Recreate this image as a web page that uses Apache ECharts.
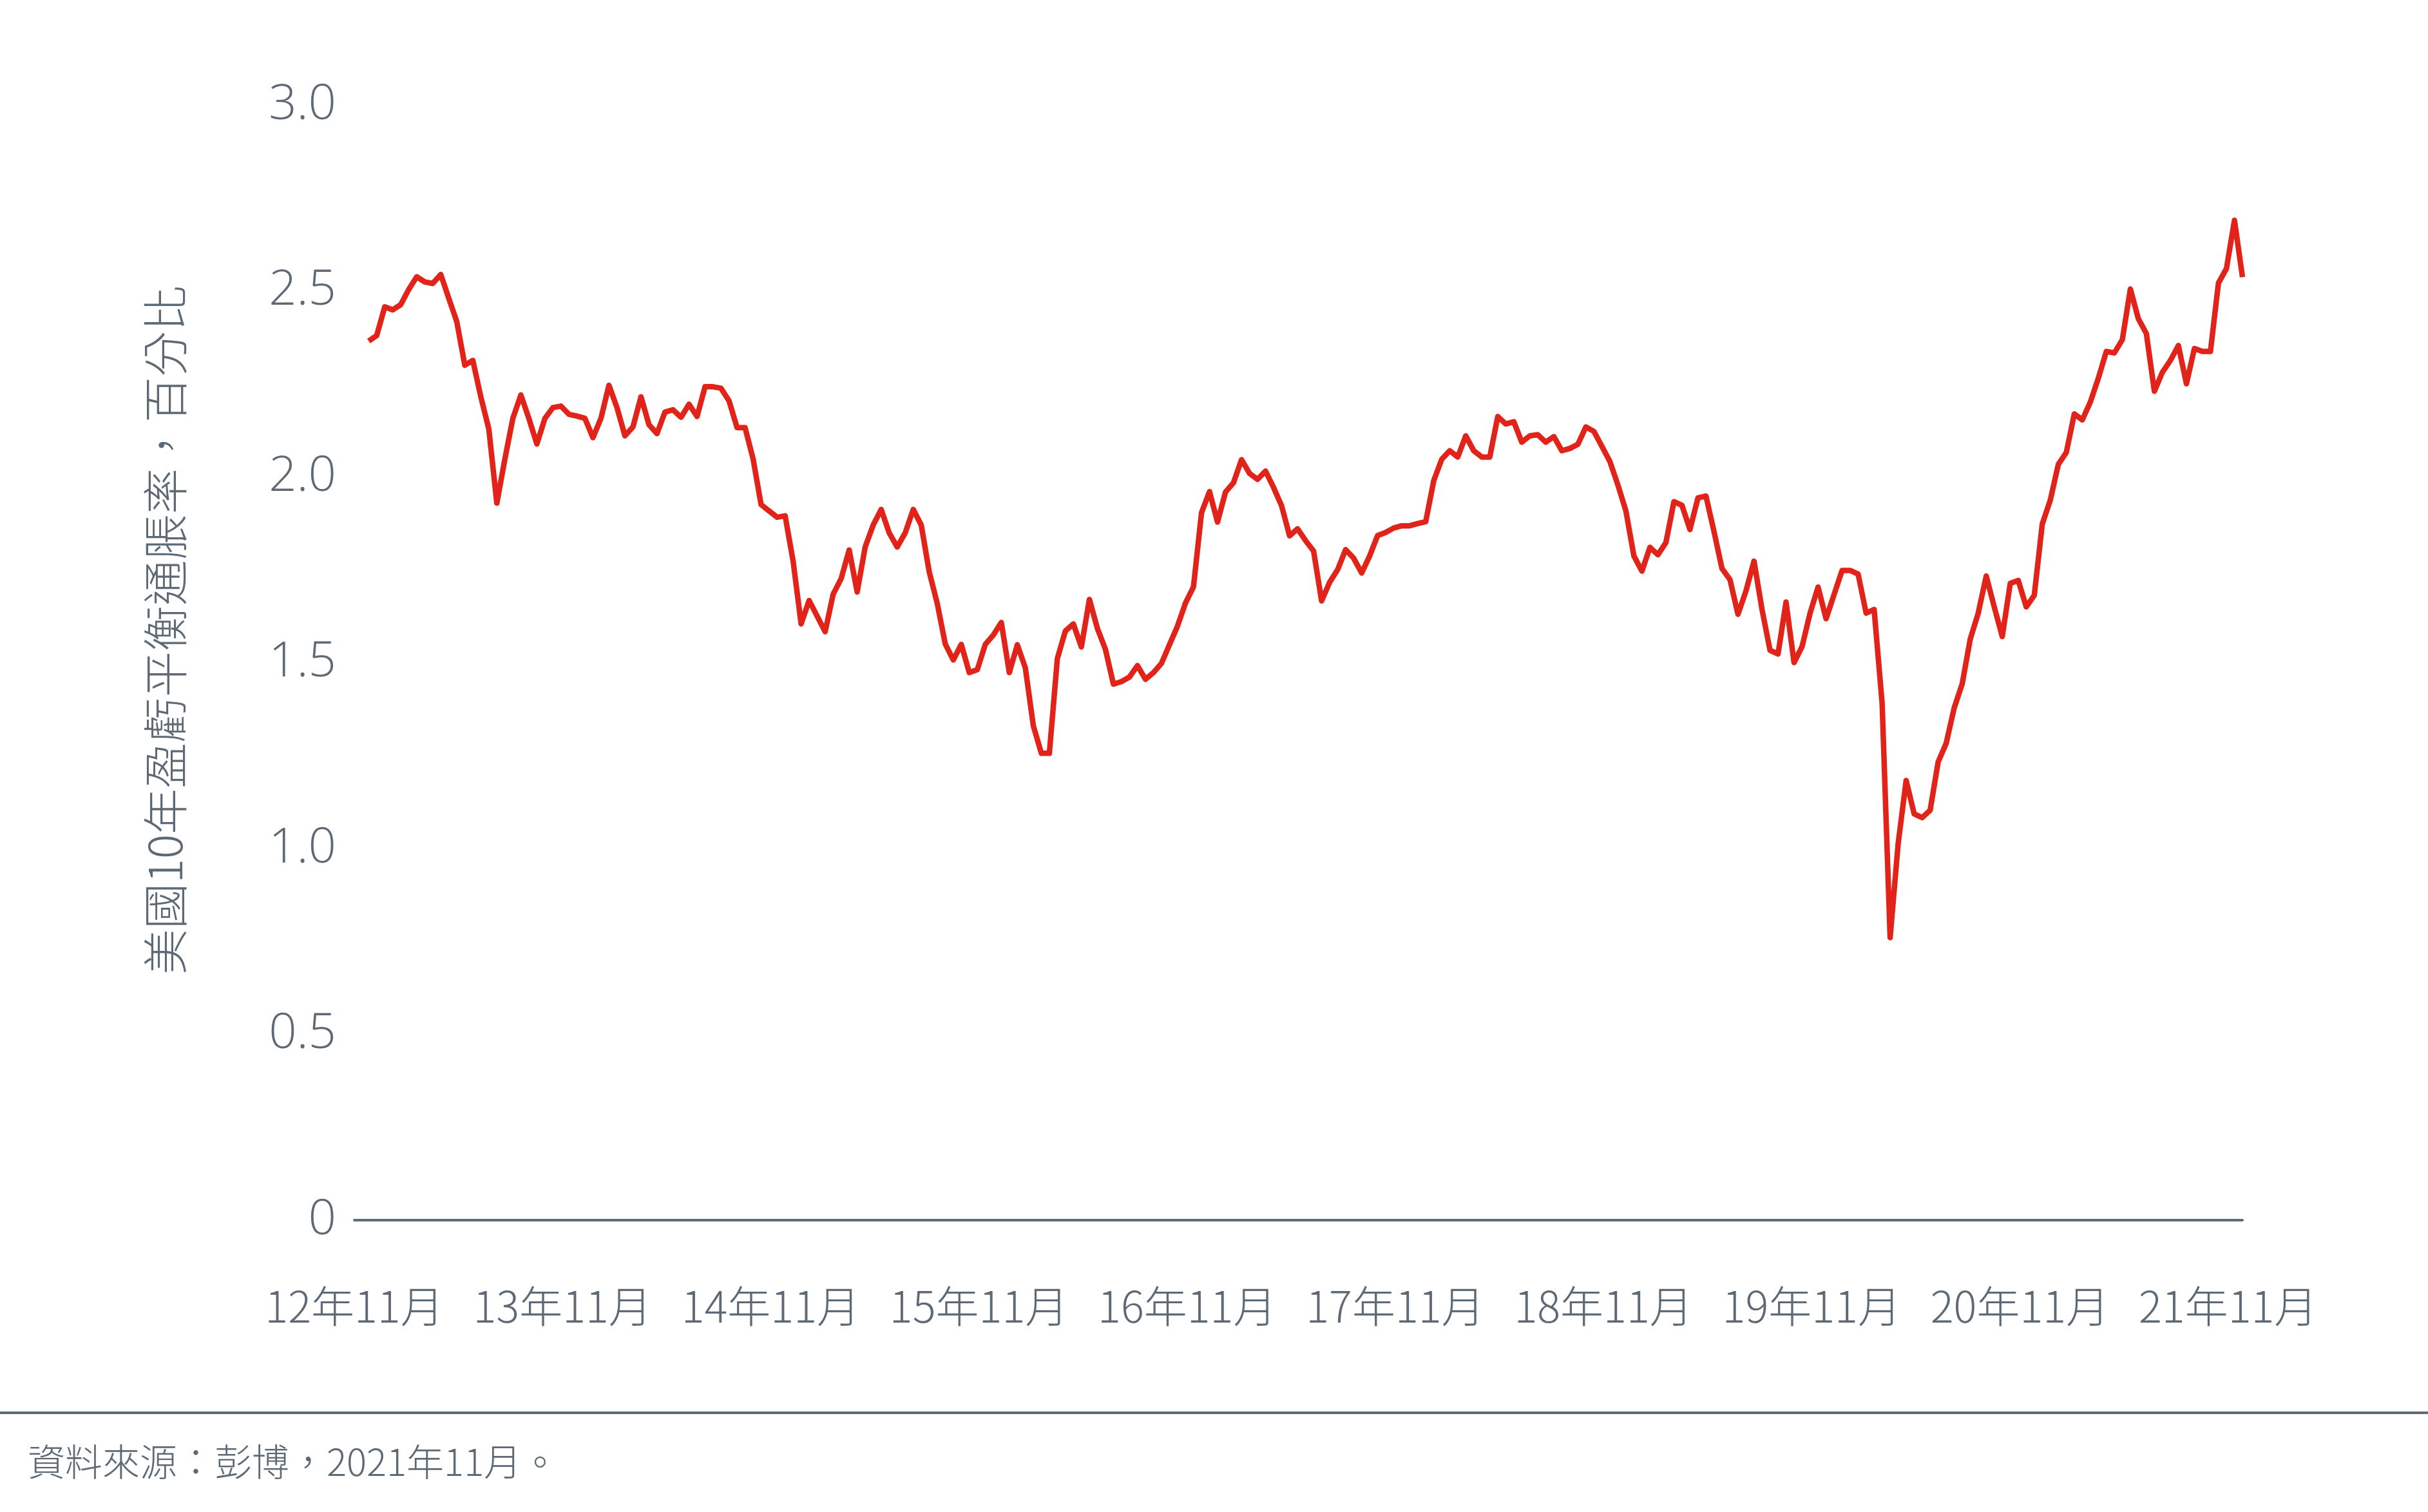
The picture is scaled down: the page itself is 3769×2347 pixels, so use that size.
<!DOCTYPE html>
<html>

<head>
  <meta charset="utf-8">
  <script src="https://cdn.jsdelivr.net/npm/echarts@6/dist/echarts.min.js"></script>
</head>

<style>
  html,
  body {
    margin: 0;
    width: 100%;
    height: 100%;
    background: #fff;
  }

  #main {
    width: 3769px;
    height: 2347px;
  }
</style>

<body>
  <div id="main"></div>

  <script>
    // 美國10年盈虧平衡通脹率（每兩週一點，12年11月至21年11月）
    var tickLabels = ['12年11月', '13年11月', '14年11月', '15年11月', '16年11月',
      '17年11月', '18年11月', '19年11月', '20年11月', '21年11月'];

    var beiValues = [
      2.365, 2.38, 2.457, 2.449, 2.463, 2.504, 2.538, 2.524, 2.52, 2.544,
      2.48, 2.417, 2.30, 2.313, 2.215, 2.128, 1.929, 2.047, 2.157, 2.22,
      2.157, 2.088, 2.157, 2.186, 2.19, 2.168, 2.163, 2.157, 2.105, 2.157,
      2.246, 2.186, 2.11, 2.134, 2.215, 2.14, 2.116, 2.174, 2.18, 2.16,
      2.195, 2.162, 2.242, 2.242, 2.238, 2.204, 2.132, 2.132, 2.048, 1.925,
      1.908, 1.891, 1.895, 1.773, 1.604, 1.667, 1.625, 1.583, 1.684, 1.726,
      1.803, 1.69, 1.811, 1.87, 1.912, 1.849, 1.811, 1.849, 1.912, 1.87,
      1.744, 1.659, 1.55, 1.507, 1.549, 1.473, 1.481, 1.549, 1.574, 1.608,
      1.473, 1.548, 1.486, 1.33, 1.256, 1.256, 1.511, 1.585, 1.604, 1.542,
      1.67, 1.592, 1.536, 1.442, 1.449, 1.461, 1.492, 1.455, 1.473, 1.498,
      1.548, 1.598, 1.66, 1.704, 1.903, 1.96, 1.878, 1.959, 1.984, 2.046,
      2.009, 1.993, 2.015, 1.971, 1.922, 1.841, 1.86, 1.828, 1.8, 1.666,
      1.716, 1.75, 1.804, 1.781, 1.741, 1.787, 1.842, 1.85, 1.862, 1.868,
      1.868, 1.874, 1.879, 1.989, 2.047, 2.07, 2.053, 2.11, 2.07, 2.053,
      2.053, 2.162, 2.142, 2.148, 2.093, 2.11, 2.113, 2.093, 2.108, 2.07,
      2.076, 2.087, 2.134, 2.122, 2.082, 2.041, 1.978, 1.908, 1.787, 1.746,
      1.81, 1.79, 1.823, 1.933, 1.923, 1.858, 1.943, 1.948, 1.853, 1.753,
      1.723, 1.63, 1.693, 1.773, 1.643, 1.533, 1.523, 1.663, 1.50, 1.543,
      1.633, 1.703, 1.618, 1.683, 1.748, 1.748, 1.738, 1.633, 1.643, 1.39,
      0.76, 1.013, 1.183, 1.093, 1.083, 1.103, 1.233, 1.283, 1.378, 1.443,
      1.563, 1.633, 1.733, 1.65, 1.57, 1.713, 1.721, 1.65, 1.681, 1.873,
      1.937, 2.033, 2.065, 2.169, 2.153, 2.201, 2.265, 2.337, 2.333, 2.369,
      2.505, 2.425, 2.385, 2.23, 2.281, 2.313, 2.353, 2.25, 2.345, 2.337,
      2.337, 2.521, 2.56, 2.69, 2.537
    ];

    var textColor = '#5d6a75';
    var labelOffset = -1.8; // 月份標籤比首個數據點略早

    var seriesData = beiValues.map(function (v, i) { return [i, v]; });
    var labelPositions = tickLabels.map(function (t, k) { return labelOffset + 26 * k; });

    var myChart = echarts.init(document.getElementById('main'));

    var option = {
      animation: false,
      backgroundColor: '#fff',
      grid: {
        left: 550,
        right: 288,
        top: 163,
        bottom: 453
      },
      xAxis: {
        type: 'value',
        min: labelOffset,
        max: beiValues.length - 1,
        splitLine: { show: false },
        axisTick: { show: false },
        axisLine: {
          show: true,
          onZero: true,
          lineStyle: { color: '#5f6b75', width: 4 }
        },
        axisLabel: {
          customValues: labelPositions,
          margin: 100,
          color: textColor,
          fontSize: 67,
          fontWeight: 300,
          fontFamily: 'Noto Sans CJK TC',
          formatter: function (v) {
            return tickLabels[Math.round((v - labelOffset) / 26)];
          }
        }
      },
      yAxis: {
        type: 'value',
        min: 0,
        max: 3,
        interval: 0.5,
        splitLine: { show: false },
        axisLine: { show: false },
        axisTick: { show: false },
        axisLabel: {
          margin: 28,
          color: textColor,
          fontSize: 76,
          fontWeight: 300,
          fontFamily: 'Open Sans',
          formatter: function (v) {
            return v === 0 ? '0' : v.toFixed(1);
          }
        }
      },
      graphic: [{
        type: 'text',
        x: 256,
        y: 978,
        rotation: Math.PI / 2,
        style: {
          text: '美國10年盈虧平衡通脹率，百分比',
          fill: textColor,
          fontSize: 71,
          fontWeight: 300,
          fontFamily: 'Noto Sans CJK TC',
          align: 'center',
          verticalAlign: 'middle'
        }
      }, {
        type: 'rect',
        shape: { x: 0, y: 2191, width: 3769, height: 4 },
        style: { fill: '#5f6b75' }
      }, {
        type: 'text',
        x: 43,
        y: 2269,
        style: {
          text: '資料來源：彭博，2021年11月。',
          fill: textColor,
          fontSize: 58,
          fontWeight: 300,
          fontFamily: 'Noto Sans CJK TC',
          align: 'left',
          verticalAlign: 'middle'
        }
      }],
      series: [{
        type: 'line',
        data: seriesData,
        showSymbol: false,
        lineStyle: { color: '#e2231a', width: 8.5, join: 'round' }
      }]
    };

    myChart.setOption(option);
  </script>
</body>

</html>
